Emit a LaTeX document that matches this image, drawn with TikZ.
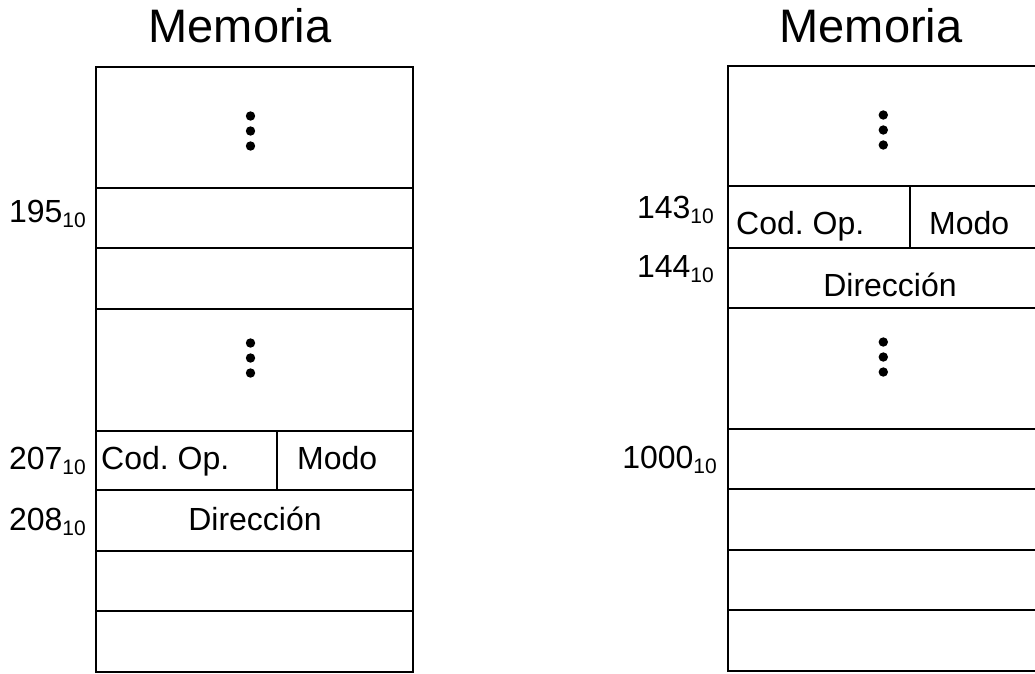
\documentclass[tikz,border=0pt]{standalone}
\usepackage{fontspec}
\setmainfont{Liberation Sans}
\frenchspacing
\newcommand{\sub}[1]{\raisebox{-5pt}{\fontsize{21}{24}\selectfont #1}}
\tikzset{
  grid/.style={line width=1.8pt, line cap=rect},
  title/.style={font=\fontsize{47}{50}\selectfont, inner sep=0pt, anchor=base},
  cell/.style={font=\fontsize{32}{36}\selectfont, inner sep=0pt},
  addr/.style={font=\fontsize{32}{36}\selectfont, inner sep=0pt, anchor=base east},
  dotnode/.style={circle, fill=black, inner sep=0pt, minimum size=9.4pt}
}
\begin{document}
\begin{tikzpicture}[x=1pt, y=-1pt]
\clip (0,0) rectangle (1035,673);
\fill[white] (0,0) rectangle (1035,673);

% ---------- left memory ----------
\node[title] (tl) at (240,42) {Memoria};
\draw[grid] (96,67) rectangle (413,672);
\foreach \yy in {188,248,309,431,490,551,611} \draw[grid] (96,\yy) -- (413,\yy);
\draw[grid] (277,431) -- (277,490);

\node[dotnode] (ld1) at (250.5,116) {};
\node[dotnode] (ld2) at (250.5,131) {};
\node[dotnode] (ld3) at (250.5,146) {};
\node[dotnode] (ld4) at (250.5,343) {};
\node[dotnode] (ld5) at (250.5,358) {};
\node[dotnode] (ld6) at (250.5,373) {};

\node[cell, anchor=base west] (lcod) at (101,469) {Cod. Op.};
\node[cell, anchor=base west] (lmodo) at (297,469) {Modo};
\node[cell, anchor=base] (ldir) at (255,530) {Dirección};

\node[addr] (a195) at (86,222) {195\sub{10}};
\node[addr] (a207) at (86,469) {207\sub{10}};
\node[addr] (a208) at (86,530) {208\sub{10}};

% ---------- right memory ----------
\node[title] (tr) at (871,42) {Memoria};
\draw[grid] (728,66) rectangle (1045,671);
\foreach \yy in {186,248,308,429,489,550,610} \draw[grid] (728,\yy) -- (1045,\yy);
\draw[grid] (910,186) -- (910,248);

\node[dotnode] (rd1) at (883.3,115) {};
\node[dotnode] (rd2) at (883.3,130) {};
\node[dotnode] (rd3) at (883.3,145) {};
\node[dotnode] (rd4) at (883.3,342) {};
\node[dotnode] (rd5) at (883.3,357) {};
\node[dotnode] (rd6) at (883.3,372) {};

\node[cell, anchor=base west] (rcod) at (736,234) {Cod. Op.};
\node[cell, anchor=base west] (rmodo) at (929,234) {Modo};
\node[cell, anchor=base] (rdir) at (890,296) {Dirección};

\node[addr] (a143) at (714,218) {143\sub{10}};
\node[addr] (a144) at (714,277) {144\sub{10}};
\node[addr] (a1000) at (717,468) {1000\sub{10}};
\end{tikzpicture}
\end{document}
